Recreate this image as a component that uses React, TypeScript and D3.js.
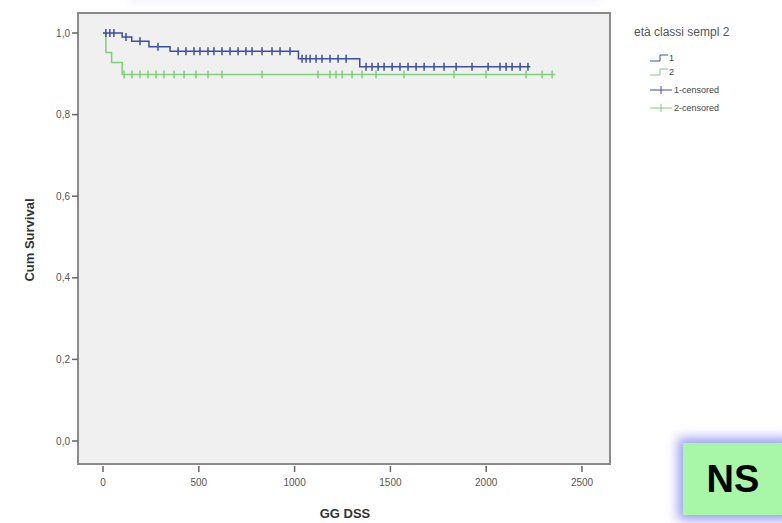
import React from "react";
import * as d3 from "d3";

const yTicks = [0, 0.2, 0.4, 0.6, 0.8, 1.0];
const xTicks = [0, 500, 1000, 1500, 2000, 2500];

// group 1 step curve: [time, survival]
const g1Steps: [number, number][] = [
  [0, 1.0], [100, 0.99], [150, 0.98], [240, 0.966], [350, 0.955],
  [1020, 0.937], [1340, 0.917], [2230, 0.917],
];
const g1Censored = [15, 36, 57, 120, 193, 287, 392, 433, 475, 506, 548, 579, 621, 663, 705, 746, 778, 830, 882, 924, 976,
  1039, 1060, 1081, 1112, 1143, 1185, 1227, 1269,
  1373, 1404, 1436, 1467, 1509, 1550, 1592, 1634, 1676, 1728, 1780, 1843, 1926, 2010, 2072, 2104, 2135, 2177, 2218];

const g2Steps: [number, number][] = [
  [0, 1.0], [15, 0.952], [45, 0.928], [100, 0.898], [2360, 0.898],
];
const g2Censored = [110, 151, 193, 235, 277, 318, 371, 423, 485, 548, 621, 830, 1122, 1185, 1216, 1248, 1300, 1352,
  1425, 1571, 1832, 1999, 2208, 2292, 2344];

const legendTitle = "età classi sempl 2";
const legendLabels = ["1", "2", "1-censored", "2-censored"];

const BLUE = "#3b4f9e";
const GREEN = "#7fcf7a";

function survAt(steps: [number, number][], t: number) {
  let v = steps[0][1];
  for (const [st, sv] of steps) if (st <= t) v = sv;
  return v;
}

export default function App() {
  const left = 78, right = 610, top = 13, bottom = 464;
  const x = d3.scaleLinear().domain([0, 2500]).range([103, 582]);
  const y = d3.scaleLinear().domain([0, 1]).range([441, 33]);
  const line = d3.line<[number, number]>().x(d => x(d[0])).y(d => y(d[1])).curve(d3.curveStepAfter);

  const font = "Arial, 'Liberation Sans', sans-serif";

  return (
    <svg width={782} height={523} style={{ position: "absolute", left: 0, top: 0 }} fontFamily={font}>
      <defs>
        <filter id="glow" x="-30%" y="-30%" width="160%" height="160%">
          <feGaussianBlur stdDeviation="4" />
        </filter>
        <filter id="glow2" x="-30%" y="-30%" width="160%" height="160%">
          <feGaussianBlur stdDeviation="6" />
        </filter>
      </defs>
      <rect width={782} height={523} fill="#ffffff" />
      {/* faint top glow */}
      <rect x={130} y={-14} width={470} height={16} fill="#d8d8f6" filter="url(#glow)" opacity={0.4} />
      {/* plot frame */}
      <rect x={left} y={top} width={right - left} height={bottom - top} fill="#f0f0f0" stroke="#8a8a8a" strokeWidth={2} />

      {/* y axis ticks */}
      {yTicks.map(v => (
        <g key={v}>
          <line x1={left - 6} x2={left} y1={y(v)} y2={y(v)} stroke="#666" strokeWidth={1.5} />
          <text x={left - 8} y={y(v)} dy="0.35em" textAnchor="end" fontSize={10} fill="#555">
            {v.toFixed(1).replace(".", ",")}
          </text>
        </g>
      ))}
      {/* x axis ticks */}
      {xTicks.map(v => (
        <g key={v}>
          <line x1={x(v)} x2={x(v)} y1={bottom + 2} y2={bottom + 8} stroke="#666" strokeWidth={1.5} />
          <text x={x(v)} y={486} textAnchor="middle" fontSize={10} fill="#555">{v}</text>
        </g>
      ))}

      <text transform="translate(34,240) rotate(-90)" textAnchor="middle" fontSize={13} fontWeight="bold" fill="#333">
        Cum Survival
      </text>
      <text x={345} y={518} textAnchor="middle" fontSize={13} fontWeight="bold" fill="#333">GG DSS</text>

      {/* curves */}
      <path d={line(g2Steps) || ""} fill="none" stroke={GREEN} strokeWidth={1.5} />
      {g2Censored.map((t, i) => {
        const yy = y(survAt(g2Steps, t));
        return <line key={i} x1={x(t)} x2={x(t)} y1={yy - 4} y2={yy + 4} stroke={GREEN} strokeWidth={1.5} />;
      })}
      <path d={line(g1Steps) || ""} fill="none" stroke={BLUE} strokeWidth={1.5} />
      {g1Censored.map((t, i) => {
        const yy = y(survAt(g1Steps, t));
        return <line key={i} x1={x(t)} x2={x(t)} y1={yy - 4} y2={yy + 4} stroke={BLUE} strokeWidth={1.5} />;
      })}

      {/* legend */}
      <text x={634} y={36} fontSize={12} fill="#555">{legendTitle}</text>
      {legendLabels.map((lab, i) => {
        const ly = [58, 72, 90, 108][i];
        const col = i % 2 === 0 ? BLUE : GREEN;
        return (
          <g key={lab}>
            {i < 2 ? (
              <path d={`M650,${ly + 3}H660V${ly - 3}H668`} fill="none" stroke={col} strokeWidth={1} />
            ) : (
              <g>
                <line x1={650} x2={672} y1={ly} y2={ly} stroke={col} strokeWidth={1} />
                <line x1={661} x2={661} y1={ly - 4} y2={ly + 4} stroke={col} strokeWidth={1} />
              </g>
            )}
            <text x={i < 2 ? 669 : 674} y={ly} dy="0.35em" fontSize={9} fill="#444">{lab}</text>
          </g>
        );
      })}

      {/* NS box */}
      <rect x={678} y={438} width={115} height={82} fill="#9a9cee" filter="url(#glow2)" />
      <rect x={683} y={443} width={105} height={72} fill="#a8f7a8" />
      <text x={733} y={479} dy="0.35em" textAnchor="middle" fontSize={38} fontWeight="bold" fill="#000">NS</text>
    </svg>
  );
}
